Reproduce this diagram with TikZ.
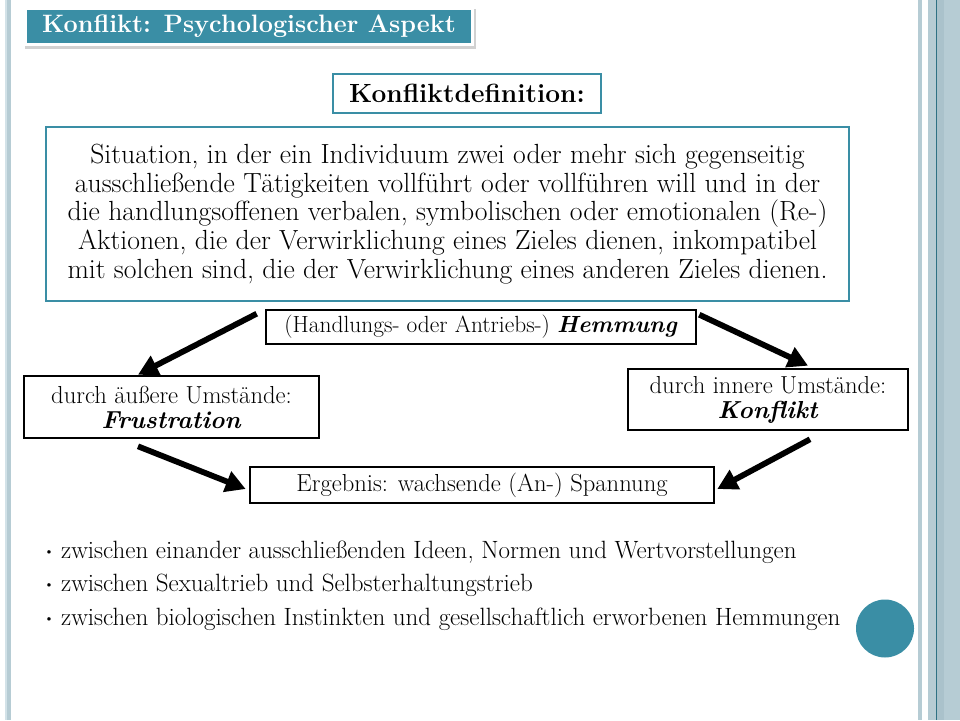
\documentclass[tikz,border=0pt]{standalone}
\usepackage{fontspec}
\usetikzlibrary{arrows.meta,calc}
\definecolor{teal1}{HTML}{3A8EA5}
\definecolor{stripe}{HTML}{B6CCD4}
\definecolor{stripedark}{HTML}{AAC2CB}
\definecolor{stripelight}{HTML}{D3E2E8}
\begin{document}
\begin{tikzpicture}[x=1pt,y=-1pt,
  blackbox/.style={draw=black,line width=2.6pt,fill=white,inner sep=0pt,align=center,font=\fontsize{24.6}{25}\selectfont},
  tealbox/.style={draw=teal1,line width=2.6pt,fill=white,inner sep=0pt,align=center},
  bigarrow/.style={line width=5.8pt,-{Triangle[length=20pt,width=21pt]}},
  bulletline/.style={anchor=west,inner sep=0pt,font=\fontsize{25}{26}\selectfont}]
\useasboundingbox (0,0) rectangle (960,720);
\fill[white] (0,0) rectangle (960,720);
% side stripes
\fill[stripelight] (5,0) rectangle (7,720);
\fill[stripe] (7,0) rectangle (11,720);
\fill[stripe] (918,0) rectangle (922,720);
\fill[stripe] (928,0) rectangle (960,720);
\fill[stripedark] (937,0) rectangle (944,720);
\draw[teal1!80!black,line width=0.8pt] (936.6,0) -- (936.6,720);
% title
\fill[black!18] (25,9) rectangle (476,49);
\fill[white] (23,6) rectangle (474,46);
\node[fill=teal1,minimum width=444pt,minimum height=33pt,inner sep=0pt,text=white,
  font=\bfseries\fontsize{25.2}{28}\selectfont] (title) at (249,26.5) {Konflikt: Psychologischer Aspekt};
% definition
\node[tealbox,minimum width=268pt,minimum height=39pt,font=\bfseries\fontsize{26.3}{28}\selectfont]
  (deflabel) at (467,93.5) {Konfliktdefinition:};
\node[tealbox,minimum width=803pt,minimum height=174pt,font=\fontsize{27.7}{28.6}\selectfont]
  (def) at (447.5,214) {Situation, in der ein Individuum zwei oder mehr sich gegenseitig\\
  ausschließende Tätigkeiten vollführt oder vollführen will und in der\\
  die handlungsoffenen verbalen, symbolischen oder emotionalen (Re-)\\
  Aktionen, die der Verwirklichung eines Zieles dienen, inkompatibel\\
  mit solchen sind, die der Verwirklichung eines anderen Zieles dienen.};
% boxes
\node[blackbox,minimum width=430pt,minimum height=34pt,font=\fontsize{23.4}{25}\selectfont] (h) at (481,327)
  {(Handlungs- oder Antriebs-) \textbf{\textit{Hemmung}}};
\node[blackbox,minimum width=295pt,minimum height=62pt] (l) at (171.5,407)
  {durch äußere Umstände:\\\textbf{\textit{Frustration}}};
\node[blackbox,minimum width=280pt,minimum height=61pt] (r) at (768,399.5)
  {durch innere Umstände:\\\textbf{\textit{Konflikt}}};
\node[blackbox,minimum width=464pt,minimum height=36pt] (e) at (482,485)
  {Ergebnis: wachsende (An-) Spannung};
% arrows
\draw[bigarrow] ($(h.north west)+(-8,5)$) -- ($(l.north)+(-33.5,0)$);
\draw[bigarrow] ($(h.north east)+(2,6)$) -- ($(r.north)+(40,-2)$);
\draw[bigarrow] ($(l.south)+(-33.5,7)$) -- ($(e.west)+(-3,4)$);
\draw[bigarrow] ($(r.south)+(42,8)$) -- ($(e.east)+(2,4)$);
% bullets
\node[bulletline] (b1) at (44,552) {\raisebox{3pt}{\fontsize{13}{13}\selectfont\textbullet}\hspace{7pt}zwischen einander ausschließenden Ideen, Normen und Wertvorstellungen};
\node[bulletline] (b2) at (44,585) {\raisebox{3pt}{\fontsize{13}{13}\selectfont\textbullet}\hspace{7pt}zwischen Sexualtrieb und Selbsterhaltungstrieb};
\node[bulletline] (b3) at (44,619) {\raisebox{3pt}{\fontsize{13}{13}\selectfont\textbullet}\hspace{7pt}zwischen biologischen Instinkten und gesellschaftlich erworbenen Hemmungen};
% circle
\fill[teal1] (885,628.5) circle[radius=29pt];
\end{tikzpicture}
\end{document}
